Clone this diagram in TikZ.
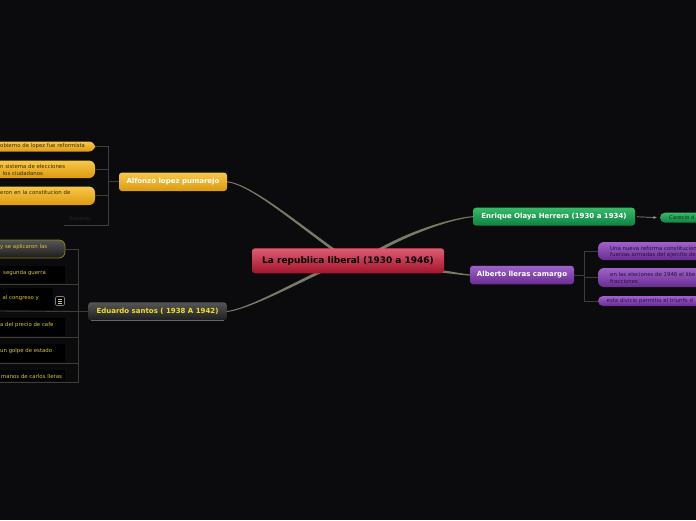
\documentclass[tikz,border=0pt]{standalone}
\usepackage{fontspec}
\setmainfont{DejaVu Sans}
\usetikzlibrary{arrows.meta,calc}
\definecolor{bg}{HTML}{0B0B0D}
\definecolor{conc}{HTML}{7A7A66}
\definecolor{subc}{HTML}{3E3E39}
\definecolor{redT}{HTML}{DE5C73}
\definecolor{redB}{HTML}{A3132B}
\definecolor{goldT}{HTML}{F8C84A}
\definecolor{goldB}{HTML}{DD9A10}
\definecolor{goldTx}{HTML}{3B2A05}
\definecolor{grnT}{HTML}{36BA68}
\definecolor{grnB}{HTML}{0E8242}
\definecolor{grnTx}{HTML}{0B3A1E}
\definecolor{purT}{HTML}{9E62CA}
\definecolor{purB}{HTML}{6A2C92}
\definecolor{purTx}{HTML}{2A1040}
\definecolor{dgT}{HTML}{565656}
\definecolor{dgB}{HTML}{1C1C1C}
\definecolor{ylw}{HTML}{F0DE2A}
\definecolor{ylwdim}{HTML}{D8C82A}
\definecolor{eborder}{HTML}{8C8020}
\definecolor{faint}{HTML}{262626}
\newcommand{\taperline}[6]{%
  \fill[conc] ($#1+(0,-#5)$) .. controls ($#2+(0,-#5)$) and ($#3+(0,-#6)$) .. ($#4+(0,-#6)$)
   -- ($#4+(0,#6)$) .. controls ($#3+(0,#6)$) and ($#2+(0,#5)$) .. ($#1+(0,#5)$) -- cycle;}
\tikzset{
  box/.style={rounded corners=3pt, inner sep=0pt, draw=none},
  lbl/.style={inner sep=0pt, anchor=west, font=\fontsize{5.4}{6.2}\selectfont, align=left},
  bl/.style={font=\fontsize{7}{8}\selectfont\bfseries},
  sub/.style={draw=subc, line width=0.9pt},
  goldbox/.style={box, rounded corners=6pt, top color=goldT, bottom color=goldB},
  purbox/.style={box, rounded corners=6pt, top color=purT, bottom color=purB},
  blackbox/.style={inner sep=0pt, draw=none, fill=black},
}
\begin{document}
\begin{tikzpicture}[x=1pt,y=-1pt]
\fill[bg] (0,0) rectangle (696,520);
\useasboundingbox (0,0) rectangle (696,520);
\begin{scope}
\clip (0,0) rectangle (696,520);

% ---- branch nodes
\node[box, top color=goldT, bottom color=goldB, minimum width=108pt, minimum height=18.5pt, bl, text=white]
      (alf) at (173,181.8) {Alfonzo lopez pumarejo};
\node[box, top color=dgT, bottom color=dgB, minimum width=138.5pt, minimum height=18.5pt, bl, text=ylw]
      (edu) at (157.5,311.5) {Eduardo santos ( 1938 A 1942)};
\fill[black!60] ($(edu.south west)+(3,-1.2)$) rectangle ($(edu.south east)+(-3,-0.2)$);
\node[box, top color=grnT, bottom color=grnB, minimum width=162pt, minimum height=18pt, bl, text=white]
      (enr) at (554,216.7) {Enrique Olaya Herrera (1930 a 1934)};
\node[box, top color=purT, bottom color=purB, minimum width=104pt, minimum height=18.5pt, bl, text=white]
      (alb) at (522,275) {Alberto lleras camargo};

% ---- junction coordinates
\coordinate (aj) at (108,181.8);
\coordinate (ej) at (78,311.5);
\coordinate (pj) at (584,275);
\coordinate (cA) at (334,250);
\coordinate (cE) at (322,271);
\coordinate (cN) at (379,250);
\coordinate (cB) at (442,271.5);
\coordinate (sucl) at (64,225);

% ---- main tapered connectors
\taperline{(alf.east)}{(250,184)}{(295,222)}{(cA)}{0.5}{1.6}
\taperline{(edu.east)}{(248,309)}{(290,286)}{(cE)}{0.5}{1.6}
\taperline{(enr.west)}{(455,218)}{(415,230)}{(cN)}{0.5}{1.6}
\taperline{(alb.west)}{(462,274.5)}{(452,272.5)}{(cB)}{0.6}{1.2}

% ---- centre node (on top of the connectors)
\node[box, top color=redT, bottom color=redB, minimum width=192pt, minimum height=25pt,
      font=\fontsize{9}{10}\selectfont\bfseries, text=black] (ctr) at (348,260.8) {La republica liberal (1930 a 1946)};

% ---- Alfonzo children
\node[goldbox, minimum width=155pt, minimum height=10pt] (a1) at (17.5,146.5) {};
\node[lbl, text=goldTx] (a1t) at (0,146.5) {obierno de lopez fue reformista};
\node[goldbox, minimum width=155pt, minimum height=17.5pt] (a2) at (17.5,169.3) {};
\node[lbl, text=goldTx] (a2t) at (0,170) {n sistema de elecciones\\\hspace*{2.5pt}los ciudadanos};
\node[goldbox, minimum width=155pt, minimum height=18.5pt] (a3) at (17.5,195.8) {};
\node[lbl, text=goldTx] (a3t) at (0,192.7) {eron en la constitucion de};
\node[lbl, text=faint] (suc) at (69,219) {Sucesos};
\draw[sub] (a1.east) -| (aj);
\draw[sub] (a2.east) -| (aj);
\draw[sub] (a3.east) -| (aj);
\draw[sub] (sucl) -| (aj);
\draw[sub] (aj) -- (alf.west);

% ---- Eduardo children
\node[box, rounded corners=6pt, draw=eborder, line width=0.8pt, top color=dgT, bottom color=dgB,
      minimum width=125pt, minimum height=18pt] (e1) at (2.5,249) {};
\node[lbl, text=ylwdim] (e1t) at (0,247.3) {y se aplicaron las};
\node[blackbox, minimum width=125pt, minimum height=17pt] (e2) at (2.5,274.5) {};
\node[lbl, text=ylwdim] (e2t) at (3,273) {segunda guerra};
\node[blackbox, minimum width=113pt, minimum height=22pt] (e3) at (-3.5,299) {};
\node[lbl, text=ylwdim] (e3t) at (2.5,298.5) {al congreso y};
\node[blackbox, minimum width=125pt, minimum height=18pt] (e4) at (2.5,327) {};
\node[lbl, text=ylwdim] (e4t) at (0,325) {a del precio de cafe};
\node[blackbox, minimum width=125pt, minimum height=18pt] (e5) at (2.5,353) {};
\node[lbl, text=ylwdim] (e5t) at (0,351.5) {un golpe de estado};
\node[blackbox, minimum width=125pt, minimum height=11pt] (e6) at (2.5,375.5) {};
\node[lbl, text=ylwdim] (e6t) at (1,376.8) {manos de carlos lleras};
\node[draw=black!50, line width=0.6pt, rounded corners=1.2pt, fill=black, minimum size=9pt, inner sep=0pt] (ic) at (60,301) {};
\foreach \dy in {-2,0,2} \draw[ylwdim, line width=0.6pt] ($(ic.center)+(-2.4,\dy)$) -- ++(4.8,0);
\coordinate (u2) at (0,284);
\coordinate (u3) at (0,311);
\coordinate (u4) at (0,337);
\coordinate (u5) at (0,363);
\coordinate (u6) at (0,382);
\draw[sub] (e1.east) -| (ej);
\draw[sub] (u2) -| (ej);
\draw[sub] (u3) -- (ej);
\draw[sub] (u4) -| (ej);
\draw[sub] (u5) -| (ej);
\draw[sub] (u6) -| (ej);
\draw[sub] (ej) -- (edu.west);

% ---- Enrique child
\node[box, rounded corners=5pt, top color=grnT, bottom color=grnB, minimum width=100pt, minimum height=10pt] (g1) at (710,217.7) {};
\node[lbl, text=grnTx] (g1t) at (669,217.7) {Carecio d};
\draw[draw=black!45, line width=0.7pt, -{Stealth[length=3.5pt,width=3pt]}, shorten <=2pt, shorten >=3pt] (enr.east) -- (g1.west);

% ---- Alberto children
\node[purbox, minimum width=160pt, minimum height=18pt] (p1) at (678,251) {};
\node[lbl, text=purTx] (p1t) at (610,251.7) {Una nueva reforma constitucion\\fuerzas armadas del ejercito de};
\node[purbox, minimum width=160pt, minimum height=19pt] (p2) at (678,277.5) {};
\node[lbl, text=purTx] (p2t) at (610,278) {en las eleciones de 1946 el libe\\fracciones};
\node[purbox, rounded corners=5pt, minimum width=160pt, minimum height=10pt] (p3) at (678,301) {};
\node[lbl, text=purTx] (p3t) at (606.5,301) {esta divicio permitio el triunfo d};
\draw[sub] (alb.east) -- (pj);
\draw[sub] (p1.west) -| (pj);
\draw[sub] (p2.west) -| (pj);
\draw[sub] (p3.west) -| (pj);
\end{scope}
\end{tikzpicture}
\end{document}
